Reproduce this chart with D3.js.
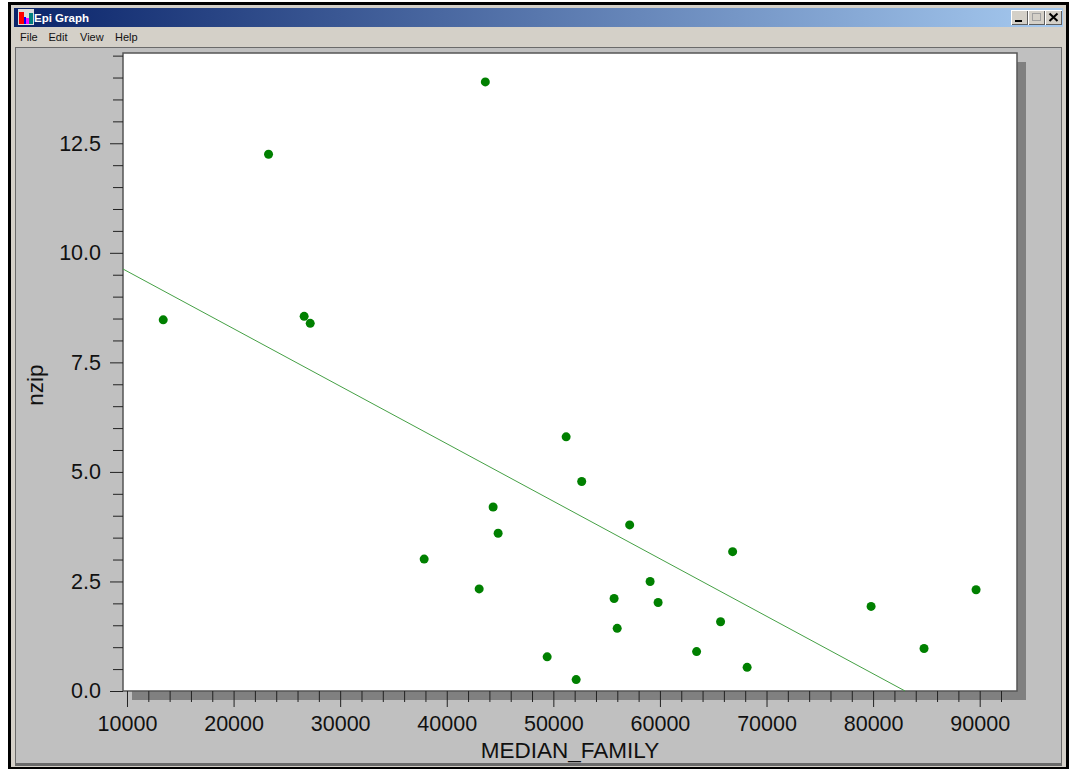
<!DOCTYPE html>
<html><head><meta charset="utf-8">
<script src="https://cdn.jsdelivr.net/npm/d3@7"></script>
<style>html,body{margin:0;padding:0;background:#fff}svg{display:block}</style>
</head><body><svg id="c" width="1069" height="769"></svg>
<script>
const incomes=[13400,23280,26620,27190,37880,43040,43620,44350,44820,49420,51200,52140,52660,55700,55990,57160,59080,59830,63440,65690,66820,68180,79810,84780,89660];
const nzip=[8.47,12.25,8.55,8.39,3.01,2.33,13.90,4.20,3.60,0.78,5.80,0.26,4.78,2.11,1.43,3.79,2.50,2.02,0.90,1.58,3.18,0.54,1.93,0.97,2.31];
const fitX=[9625,83000];
const fitY=[9.63,0];
const xMajor=[10000,20000,30000,40000,50000,60000,70000,80000,90000];
const xMinor=[12000,14000,16000,18000,22000,24000,26000,28000,32000,34000,36000,38000,42000,44000,46000,48000,52000,54000,56000,58000,62000,64000,66000,68000,72000,74000,76000,78000,82000,84000,86000,88000,92000];
const yMajor=[0,2.5,5,7.5,10,12.5];
const yMinor=[0.5,1,1.5,2,3,3.5,4,4.5,5.5,6,6.5,7,8,8.5,9,9.5,10.5,11,11.5,12,13,13.5,14,14.5];
const menus=["File","Edit","View","Help"];
const menuX=[20,48.5,80,115];

const svg=d3.select("#c");
const L=123,R=1017,T=53,B=691;
const x=d3.scaleLinear().domain([9625,93500]).range([L,R]);
const y=d3.scaleLinear().domain([0,14.56]).range([B,T]);
const rect=(a,b,w,h,f)=>svg.append("rect").attr("x",a).attr("y",b).attr("width",w).attr("height",h).attr("fill",f);

// window chrome
rect(8,2,1061,767,"#000");
rect(11,5,1055,762,"#d4d0c8");
const g=svg.append("defs").append("linearGradient").attr("id","tb");
g.append("stop").attr("offset",0).attr("stop-color","#0a246a");
g.append("stop").attr("offset",1).attr("stop-color","#a6caf0");
rect(14,8,1049,19,"url(#tb)");
// title icon
rect(18,9,16,16,"#dcdcdc");
[["#ff0000",19,12,5,12],["#0000ff",24,17,2,7],["#ff00ff",26,18,3,6],["#008080",29,13,4,11]].forEach(d=>rect(d[1],d[2],d[3],d[4],d[0]));
svg.append("text").attr("x",34).attr("y",22).attr("font-family","Liberation Sans").attr("font-weight","bold").attr("font-size",11.5).attr("fill","#fff").text("Epi Graph");
menus.forEach((m,i)=>svg.append("text").attr("x",menuX[i]).attr("y",41).attr("font-family","Liberation Sans").attr("font-size",11).attr("fill","#111").text(m));
// window buttons
[1011,1028,1045].forEach(bx=>{
  rect(bx,10,17,15,"#fff");rect(bx+1,11,16,14,"#5f5f5f");rect(bx+1,11,15,13,"#d4d0c8");
});
rect(1015,20,7,2,"#000");
svg.append("rect").attr("x",1032.5).attr("y",13.5).attr("width",8).attr("height",7).attr("fill","none").attr("stroke","#a0a0a0").attr("stroke-width",1);
svg.append("path").attr("d","M1049.5 13.5L1057.5 21M1057.5 13.5L1049.5 21").attr("stroke","#000").attr("stroke-width",2);

// client area
rect(15,47,1047,719,"#6a6a6a");
rect(16,48,1045,715,"#c0c0c0");
// plot shadow + plot
rect(L+9,T+9,R-L,B-T,"#808080");
svg.append("rect").attr("x",L).attr("y",T).attr("width",R-L).attr("height",B-T).attr("fill","#fff").attr("stroke","#555").attr("stroke-width",1.5);

// axes
const ax=sel=>{sel.select(".domain").remove();sel.selectAll("line").attr("stroke","#222").attr("stroke-width",1);};
const font=s=>s.attr("font-family","Liberation Sans").attr("font-size",21.5).attr("fill","#111");
svg.append("g").attr("transform",`translate(0,${B})`).call(d3.axisBottom(x).tickValues(xMinor).tickSize(11).tickFormat("")).call(ax);
svg.append("g").attr("transform",`translate(0,${B})`).call(d3.axisBottom(x).tickValues(xMajor).tickSize(16).tickPadding(9).tickFormat(d3.format("d"))).call(ax).selectAll("text").call(font);
svg.append("g").attr("transform",`translate(${L},0)`).call(d3.axisLeft(y).tickValues(yMinor).tickSize(10).tickFormat("")).call(ax);
svg.append("g").attr("transform",`translate(${L},0)`).call(d3.axisLeft(y).tickValues(yMajor).tickSize(13).tickPadding(9).tickFormat(d3.format(".1f"))).call(ax).selectAll("text").call(font);
svg.append("text").attr("x",570).attr("y",758).attr("text-anchor","middle").call(font).attr("font-size",22.5).text("MEDIAN_FAMILY");
svg.append("text").attr("transform","translate(43,385) rotate(-90)").attr("text-anchor","middle").call(font).attr("font-size",22.5).text("nzip");

// fit line and points
svg.append("path").datum(fitX.map((v,i)=>[v,fitY[i]])).attr("d",d3.line().x(d=>x(d[0])).y(d=>y(d[1]))).attr("fill","none").attr("stroke","#45a045").attr("stroke-width",1);
svg.append("g").selectAll("circle").data(incomes.map((v,i)=>[v,nzip[i]])).join("circle")
  .attr("cx",d=>x(d[0])).attr("cy",d=>y(d[1])).attr("r",4.5).attr("fill","#008000");
</script></body></html>
